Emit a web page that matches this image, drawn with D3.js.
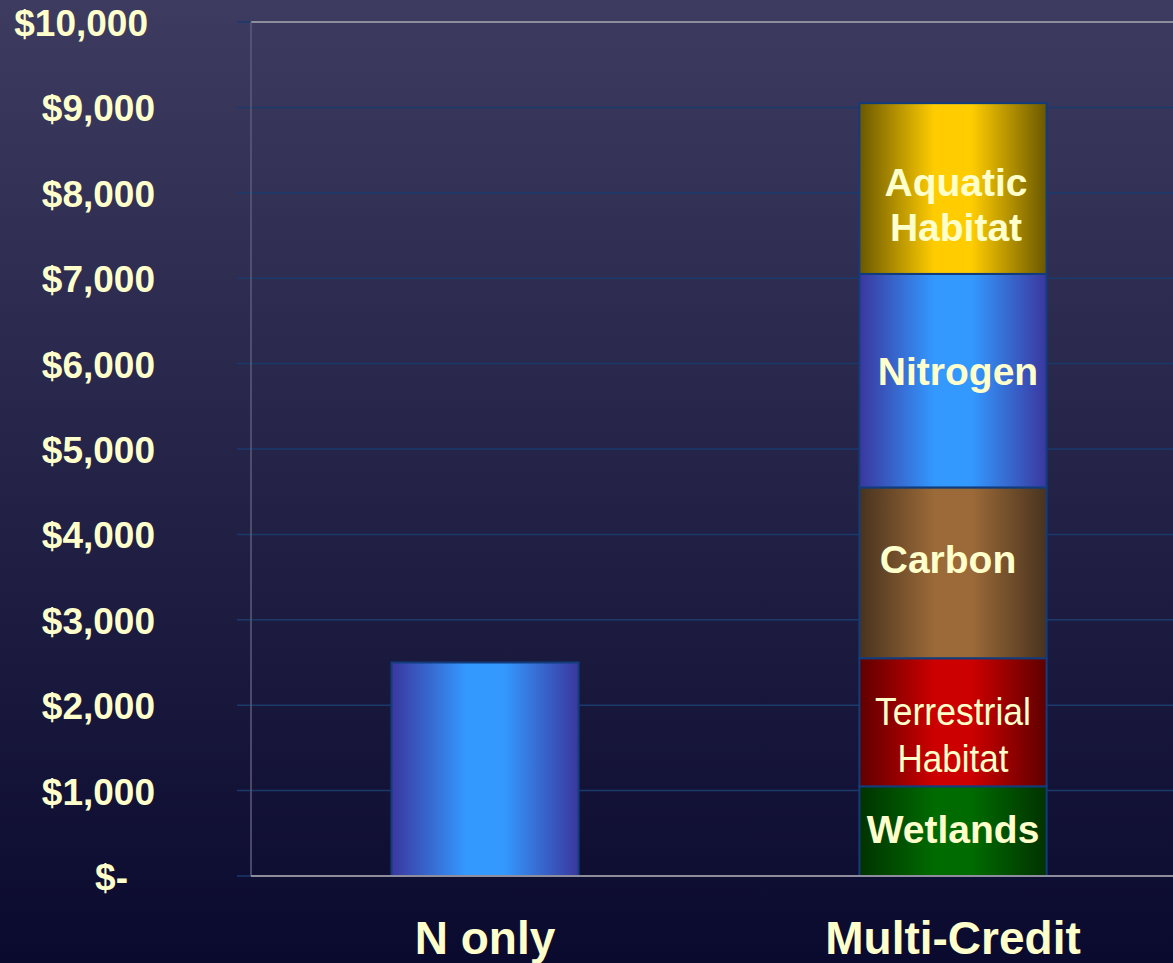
<!DOCTYPE html>
<html><head><meta charset="utf-8">
<script src="https://cdn.jsdelivr.net/npm/d3@7"></script>
<style>html,body{margin:0;padding:0;overflow:hidden;background:#0a0a2e}</style>
</head><body>
<svg id="chart" width="1173" height="963"></svg>
<script>
// ---- data ----
const categories = ["N only", "Multi-Credit"];
const seriesNames = ["Wetlands", "Terrestrial Habitat", "Carbon", "Nitrogen", "Aquatic Habitat"];
const nOnlyValues = [0, 0, 0, 2500, 0];
const multiCreditValues = [1050, 1500, 2000, 2500, 2000];
const yTicks = [0, 1000, 2000, 3000, 4000, 5000, 6000, 7000, 8000, 9000, 10000];

(function(){
// ---- styles ----
const gradColors = {
  "Wetlands": ["#013201", "#006b00"],
  "Terrestrial Habitat": ["#5e0000", "#cc0000"],
  "Carbon": ["#48331f", "#9c6a38"],
  "Nitrogen": ["#3a379e", "#3399ff"],
  "Aquatic Habitat": ["#6a5800", "#ffcc00"]
};
const labelStyle = {
  "Wetlands": {lines:["Wetlands"], bold:true, dy:-2},
  "Terrestrial Habitat": {lines:["Terrestrial","Habitat"], bold:false, dy:12},
  "Carbon": {lines:["Carbon"], bold:true, dy:-14, dx:-5},
  "Nitrogen": {lines:["Nitrogen"], bold:true, dy:-10, dx:5},
  "Aquatic Habitat": {lines:["Aquatic","Habitat"], bold:true, dy:16, dx:3}
};

const svg = d3.select("#chart");
const W = 1173, H = 963;
const defs = svg.append("defs");
const bg = defs.append("linearGradient").attr("id","bg").attr("x1",0).attr("y1",0).attr("x2",0).attr("y2",1);
bg.append("stop").attr("offset","0%").attr("stop-color","#3d3c60");
bg.append("stop").attr("offset","100%").attr("stop-color","#0a0a2e");
svg.append("rect").attr("width",W).attr("height",H).attr("fill","url(#bg)");

seriesNames.forEach((s,i)=>{
  const g = defs.append("linearGradient").attr("id","g"+i).attr("x1",0).attr("x2",1).attr("y1",0).attr("y2",0);
  const [d,b] = gradColors[s];
  g.append("stop").attr("offset","0%").attr("stop-color",d);
  g.append("stop").attr("offset","40%").attr("stop-color",b);
  g.append("stop").attr("offset","60%").attr("stop-color",b);
  g.append("stop").attr("offset","100%").attr("stop-color",d);
});

const pL = 251, pT = 22, pB = 876, pR = 1187;
const y = d3.scaleLinear().domain([0,10000]).range([pB, pT]);
const x = d3.scaleBand().domain(categories).range([pL, pR]).paddingInner(0.6).paddingOuter(0.3);

// gridlines + ticks
svg.append("g").selectAll("line").data(yTicks).join("line")
  .attr("x1", pL-14).attr("x2", W).attr("y1", d=>y(d)).attr("y2", d=>y(d))
  .attr("stroke","#1a3a6c").attr("stroke-width",1.5);

// plot border (gray)
svg.append("line").attr("x1",pL).attr("x2",W).attr("y1",pT).attr("y2",pT).attr("stroke","#8d8d9e").attr("stroke-width",2);
svg.append("line").attr("x1",pL).attr("x2",pL).attr("y1",pT).attr("y2",pB).attr("stroke","#5d5d78").attr("stroke-width",1.5);

// y labels
const fmt = d => d===0 ? "$-" : "$" + d3.format(",")(d);
const labelOffset = d => d===0 ? -27 : (d===10000 ? -7 : 0);
svg.append("g").selectAll("text").data(yTicks).join("text")
  .attr("x", d=>155+labelOffset(d)).attr("y", d=>y(d)+14)
  .attr("text-anchor","end")
  .attr("font-family","'Liberation Sans', Arial, sans-serif").attr("font-weight","bold").attr("font-size",37)
  .attr("fill","#ffffcc").text(fmt);

// stacked bars
const rows = [nOnlyValues, multiCreditValues];
rows.forEach((vals, ci)=>{
  const cat = categories[ci];
  let acc = 0;
  vals.forEach((v, si)=>{
    if (v <= 0) return;
    const y0 = acc, y1 = acc + v; acc = y1;
    svg.append("rect")
      .attr("x", x(cat)).attr("width", x.bandwidth())
      .attr("y", y(y1)).attr("height", y(y0)-y(y1))
      .attr("fill","url(#g"+si+")").attr("stroke","#123c7c").attr("stroke-width",2);
    if (ci === 1) {
      const st = labelStyle[seriesNames[si]];
      const cx = x(cat) + x.bandwidth()/2 + (st.dx||0);
      const cy = (y(y0)+y(y1))/2 + (st.dy||0);
      const lh = st.bold ? 45 : 47;
      const n = st.lines.length;
      st.lines.forEach((ln, li)=>{
        const t = svg.append("text")
          .attr("x", cx).attr("y", cy + (li - (n-1)/2)*lh + 14)
          .attr("text-anchor","middle")
          .attr("font-family","'Liberation Sans', Arial, sans-serif")
          .attr("font-weight", st.bold ? "bold" : "normal")
          .attr("font-size", 39).attr("fill","#ffffcc").text(ln);
        if (!st.bold) t.attr("textLength", ln==="Terrestrial" ? 156 : 111).attr("lengthAdjust","spacingAndGlyphs");
      });
    }
  });
});

// bottom axis line
svg.append("line").attr("x1",pL).attr("x2",W).attr("y1",pB).attr("y2",pB).attr("stroke","#8d8d9e").attr("stroke-width",2);

// category labels
svg.append("g").selectAll("text").data(categories).join("text")
  .attr("x", d=>x(d)+x.bandwidth()/2).attr("y", 954)
  .attr("text-anchor","middle")
  .attr("font-family","'Liberation Sans', Arial, sans-serif").attr("font-weight","bold").attr("font-size",46)
  .attr("fill","#ffffcc").text(d=>d);
})();
</script>
</body></html>
